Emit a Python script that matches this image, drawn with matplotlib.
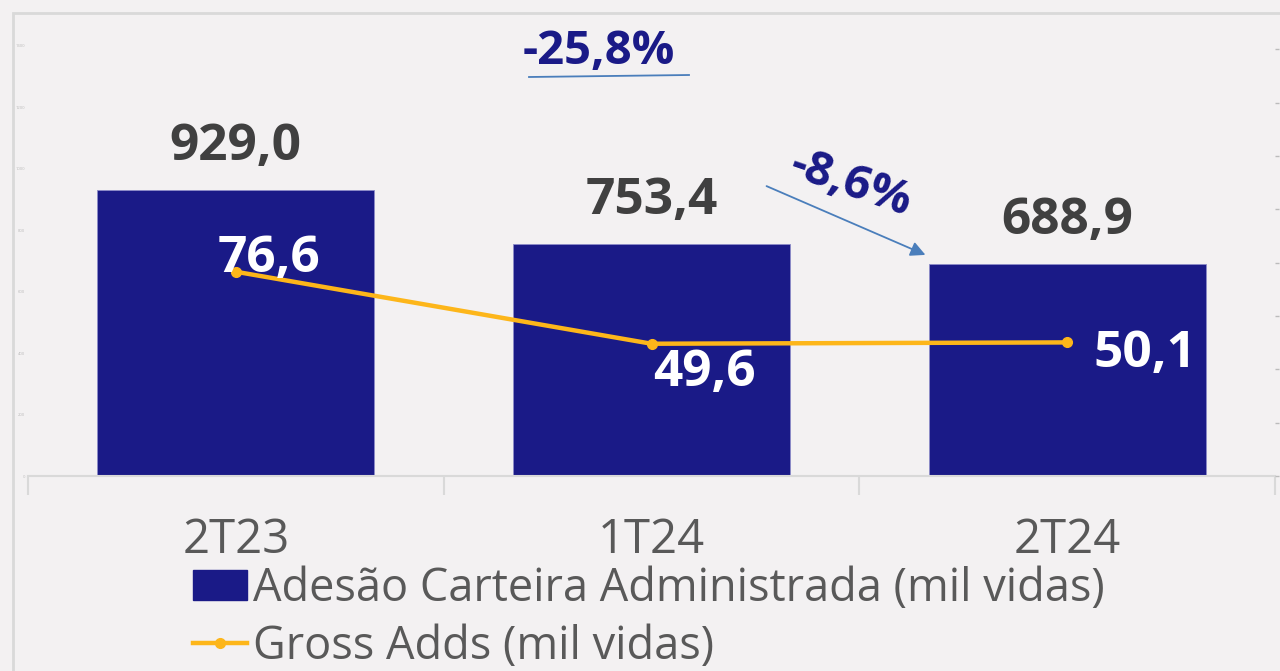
import matplotlib.pyplot as plt
from matplotlib.patches import Rectangle, Patch
from matplotlib.lines import Line2D

# data
periods = ['2T23', '1T24', '2T24']
adesao = [929.0, 753.4, 688.9]          # mil vidas (bars)
gross_adds = [76.6, 49.6, 50.1]         # mil vidas (line)
adesao_labels = ['929,0', '753,4', '688,9']
gross_labels = ['76,6', '49,6', '50,1']
left_ticks = [0, 200, 400, 600, 800, 1000, 1200, 1400]
right_ticks = [0, 20, 40, 60, 80, 100, 120, 140, 160]

navy = '#1A1A87'
orange = '#FDB61A'
gray_txt = '#595959'
bg = '#F3F1F2'
W, H = 1280, 671

plt.rcParams['font.family'] = ['Open Sans', 'DejaVu Sans']

fig = plt.figure(figsize=(W / 100, H / 100), dpi=100, facecolor=bg)
# chart-area border (only top/left visible in the crop)
fig.patches.append(Rectangle((13 / W, -0.1), 1.2, 1 - 13 / H + 0.1, transform=fig.transFigure,
                             fill=False, edgecolor='#D9D9D9', linewidth=2))

ax = fig.add_axes([28 / W, 1 - 476 / H, (1275 - 28) / W, (476 - 20) / H])
ax.set_facecolor('none')
x = range(len(periods))
ax.bar(x, adesao, width=0.666, color=navy, edgecolor='#8C8CC8', linewidth=0.6, zorder=2)
ax.set_xlim(-0.5, 2.5)
ax.set_ylim(0, 1483)

for s in ['top', 'left', 'right']:
    ax.spines[s].set_visible(False)
ax.spines['bottom'].set_color('#D9D9D9')
ax.spines['bottom'].set_linewidth(1.5)
ax.set_xticks(list(x))
ax.set_xticklabels(periods, fontsize=34, color=gray_txt)
ax.set_xticks([-0.5, 0.5, 1.5, 2.5], minor=True)
ax.tick_params(axis='x', which='major', length=0, pad=29)
ax.tick_params(axis='x', which='minor', length=14, width=1.5, color='#D9D9D9')
ax.set_yticks(left_ticks)
ax.tick_params(axis='y', length=0, labelsize=3, labelcolor='#BBBBBB', pad=2)

for i, v in enumerate(adesao):
    ax.annotate(adesao_labels[i], (i, v), xytext=(0, 13), textcoords='offset points',
                ha='center', va='bottom', fontsize=37, fontweight='bold', color='#404040')

ax2 = ax.twinx()
ax2.set_ylim(0, 171)
for s in ax2.spines.values():
    s.set_visible(False)
ax2.set_yticks(right_ticks)
ax2.tick_params(axis='y', length=3, width=1, color='#BBBBBB', labelright=False)
ax2.plot(list(x), gross_adds, color=orange, linewidth=3.2, marker='o', markersize=7, zorder=3)

offsets = [(24, 9), (38, -21), (56, -8)]
for i, v in enumerate(gross_adds):
    ax2.annotate(gross_labels[i], (i, v), xytext=offsets[i], textcoords='offset points',
                 ha='center', va='center', fontsize=37, fontweight='bold', color='white')

# variation annotations
fig.text(599 / W, 1 - 51 / H, '-25,8%', ha='center', va='center', fontsize=34,
         fontweight='bold', color=navy)
fig.add_artist(Line2D([529 / W, 689 / W], [1 - 77 / H, 1 - 75 / H], color='#4A7EBB', linewidth=1.3))
fig.text(851 / W, 1 - 184 / H, '-8,6%', ha='center', va='center', fontsize=34,
         fontweight='bold', color=navy, rotation=-19, rotation_mode='anchor')
ax.annotate('', xy=(928 / W, 1 - 256 / H), xytext=(764 / W, 1 - 185 / H),
            xycoords='figure fraction', textcoords='figure fraction',
            arrowprops=dict(arrowstyle='-|>', color='#4A7EBB', lw=1.3, mutation_scale=22))

handles = [Patch(facecolor=navy, edgecolor=navy),
           Line2D([0], [0], color=orange, linewidth=3.2, marker='o', markersize=7)]
fig.legend(handles, ['Adesão Carteira Administrada (mil vidas)', 'Gross Adds (mil vidas)'],
           loc='upper left', bbox_to_anchor=(193 / W, 1 - 566 / H), frameon=False,
           fontsize=32.5, labelcolor=gray_txt, handlelength=1.2, handleheight=0.63,
           handletextpad=0.13, labelspacing=0.26, borderpad=0, borderaxespad=0)

fig.savefig('out.png', dpi=100, facecolor=bg)
